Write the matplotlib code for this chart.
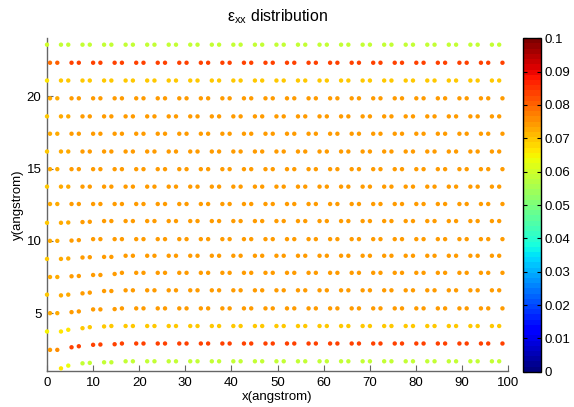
import matplotlib
matplotlib.use("Agg")
import matplotlib.pyplot as plt
import numpy as np

plt.rcParams['font.family'] = ['Liberation Sans', 'DejaVu Sans']
plt.rcParams['font.size'] = 9.5
plt.rcParams['mathtext.default'] = 'regular'

# atom x positions (angstrom) for the two kinds of rows
x_row_a = [0.0, 3.03, 4.61, 7.70, 9.28, 12.38, 13.96, 17.05, 18.63, 21.73, 23.31,
           26.40, 27.98, 31.07, 32.65, 35.75, 37.33, 40.42, 42.00, 45.10, 46.68,
           49.77, 51.35, 54.44, 56.02, 59.12, 60.70, 63.79, 65.37, 68.47, 70.05,
           73.14, 74.72, 77.81, 79.39, 82.49, 84.07, 87.16, 88.74, 91.84, 93.42,
           96.51, 98.09]
x_row_b = [0.65, 2.23, 5.32, 6.90, 10.00, 11.58, 14.67, 16.25, 19.35, 20.93,
           24.02, 25.60, 28.69, 30.27, 33.37, 34.95, 38.04, 39.62, 42.72, 44.30,
           47.39, 48.97, 52.06, 53.64, 56.74, 58.32, 61.41, 62.99, 66.09, 67.67,
           70.76, 72.34, 75.43, 77.01, 80.11, 81.69, 84.78, 86.36, 89.46, 91.04,
           94.13, 95.71, 98.80]

# rows from top to bottom
row_y = [23.57, 22.32, 21.09, 19.86, 18.61, 17.41, 16.18, 14.96, 13.75, 12.55,
         11.37, 10.12, 8.97, 7.79, 6.58, 5.33, 4.11, 2.90, 1.67]
row_kind = ['A', 'B', 'A', 'B', 'A', 'B', 'A', 'B', 'A', 'B',
            'A', 'B', 'A', 'B', 'A', 'B', 'A', 'B', 'A']
row_first = [0] * 18 + [1]   # bottom row has no atom at x=0
row_strain = [0.058, 0.084, 0.069, 0.074, 0.074, 0.074, 0.074, 0.074, 0.074, 0.074,
              0.074, 0.074, 0.074, 0.074, 0.074, 0.074, 0.069, 0.084, 0.058]

# strain of the first atoms of each row (left edge)
edge_strain = [
    [0.060],
    [0.079, 0.080],
    [0.066],
    [0.073, 0.073],
    [0.070, 0.072, 0.072],
    [0.073, 0.073],
    [0.070, 0.072, 0.072],
    [0.073, 0.073],
    [0.070, 0.072, 0.072],
    [0.073, 0.073],
    [0.070, 0.072, 0.072],
    [0.073, 0.073],
    [0.070, 0.072, 0.072],
    [0.073, 0.073],
    [0.070, 0.072, 0.072],
    [0.073, 0.073],
    [0.065, 0.066, 0.067],
    [0.074, 0.076],
    [0.066, 0.063, 0.059],
]
# downward shift of the first atoms of each row (angstrom)
edge_drop = [
    [], [], [], [], [], [], [], [], [], [],
    [0.12, 0.12, 0.10, 0.07, 0.05],
    [0.12, 0.12, 0.10, 0.07],
    [0.22, 0.22, 0.19, 0.12, 0.10, 0.08, 0.08],
    [0.29, 0.29, 0.24, 0.22, 0.15, 0.15, 0.08],
    [0.30, 0.35, 0.30, 0.21, 0.16, 0.05, 0.05],
    [0.33, 0.33, 0.26, 0.21, 0.07, 0.07, 0.05],
    [0.38, 0.38, 0.26, 0.15, 0.08, 0.03],
    [0.44, 0.44, 0.26, 0.19, 0.09, 0.07, 0.05],
    [0.49, 0.30, 0.14, 0.11, 0.07, 0.07],
]

xs, ys, cs = [], [], []
for i, y0 in enumerate(row_y):
    xr = (x_row_a if row_kind[i] == 'A' else x_row_b)[row_first[i]:]
    for j, x in enumerate(xr):
        d = edge_drop[i][j] if j < len(edge_drop[i]) else 0.0
        c = edge_strain[i][j] if j < len(edge_strain[i]) else row_strain[i]
        xs.append(x)
        ys.append(y0 - d)
        cs.append(c)

fig = plt.figure(figsize=(5.74, 4.07), dpi=100)
ax = fig.add_axes([0.0819, 0.0885, 0.8031, 0.817])
cax = fig.add_axes([0.9103, 0.0865, 0.0317, 0.8195])

cmap = plt.get_cmap('jet', 64)
sc = ax.scatter(xs, ys, c=cs, cmap=cmap, vmin=0, vmax=0.1, s=10, linewidths=0,
                clip_on=False, zorder=3)

ax.set_xlim(0, 100)
ax.set_ylim(1, 24)
ax.set_xticks(np.arange(0, 101, 10))
ax.set_yticks([5, 10, 15, 20])
for s in ['top', 'right']:
    ax.spines[s].set_visible(False)
for s in ['left', 'bottom']:
    ax.spines[s].set_color('0.4')
    ax.spines[s].set_linewidth(1.0)
ax.tick_params(direction='in', length=4, color='0.4', pad=4)
ax.set_xlabel('x(angstrom)', labelpad=2)
ax.set_ylabel('y(angstrom)', labelpad=2)
ax.set_title('$ε_{xx}$ distribution', pad=12)

cb = fig.colorbar(sc, cax=cax)
cb.set_ticks(np.arange(0, 0.1001, 0.01))
cb.set_ticklabels(['0', '0.01', '0.02', '0.03', '0.04', '0.05', '0.06',
                   '0.07', '0.08', '0.09', '0.1'])
cb.ax.tick_params(direction='in', length=3, left=True, right=True, pad=3)
cb.outline.set_linewidth(1.0)

fig.savefig('out.png', dpi=100)
